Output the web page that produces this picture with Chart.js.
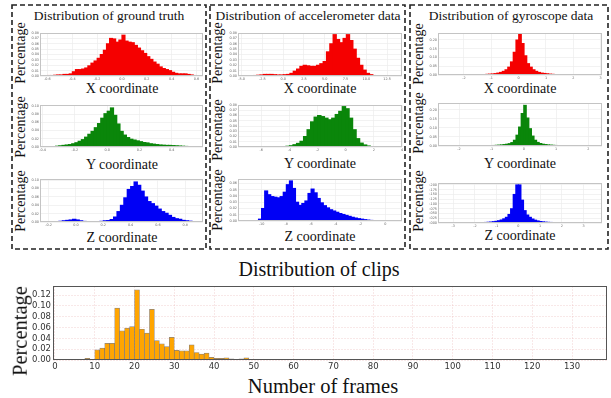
<!DOCTYPE html>
<html>
<head>
<meta charset="utf-8">
<script src="https://cdn.jsdelivr.net/npm/chart.js@4.4.0/dist/chart.umd.min.js"></script>
<style>
  body { margin: 0; background: #fff; }
  #fig { position: relative; width: 611px; height: 398px; overflow: hidden; background: #fff;
         font-family: 'Liberation Serif', 'Times New Roman', serif; color: #111; }
  #fig canvas { position: absolute; }
  .lbl { position: absolute; white-space: nowrap; line-height: 1; transform: translate(-50%, -50%); }
  .rot { transform: translate(-50%, -50%) rotate(-90deg); }
</style>
</head>
<body>
<div id="fig">
  <svg width="611" height="398" style="position:absolute;left:0;top:0">
    <g fill="none" stroke="#222" stroke-width="1.6" stroke-dasharray="5,3">
      <rect x="12" y="5" width="194" height="244"/>
      <rect x="210" y="5" width="195" height="244"/>
      <rect x="410" y="5" width="198" height="244"/>
    </g>
  </svg>
</div>
<script>
// ---- data: histogram bins (start, step) + percentage per bin ----
const gtXStart = -0.6, gtXStep = 0.025;
const gtX = [0.001,0.001,0.0015,0.002,0.002,0.003,0.003,0.004,0.008,0.012,0.012,0.013,0.015,0.019,0.024,0.028,
  0.033,0.040,0.048,0.060,0.070,0.069,0.063,0.067,0.076,0.065,0.063,0.062,0.057,0.052,0.047,0.042,
  0.036,0.031,0.026,0.022,0.017,0.014,0.012,0.010,0.007,0.005,0.004,0.004,0.004,0.003,0.002,0.001];

const accXStart = -4, accXStep = 0.4;
const accX = [0.0005,0.001,0.0015,0.002,0.003,0.003,0.003,0.0025,0.002,0.002,0.0025,0.003,0.005,0.009,0.013,0.018,
  0.020,0.019,0.018,0.018,0.020,0.023,0.027,0.045,0.060,0.077,0.068,0.062,0.070,0.077,0.066,0.050,
  0.033,0.020,0.011,0.005,0.0025,0.001,0.0005,0.0003];

const gyrXStart = -2, gyrXStep = 0.1;
const gyrX = [0.001,0.001,0.0015,0.0015,0.002,0.002,0.003,0.003,0.004,0.005,0.006,0.008,0.011,0.015,0.021,0.030,
  0.045,0.075,0.130,0.200,0.235,0.180,0.110,0.065,0.045,0.030,0.021,0.015,0.011,0.009,0.007,0.005,
  0.004,0.003,0.003,0.002,0.002,0.0015,0.001,0.001];

const gtYStart = -0.4, gtYStep = 0.02;
const gtY = [0.0005,0.0008,0.001,0.0012,0.002,0.003,0.004,0.005,0.006,0.008,0.0105,0.014,0.018,0.024,0.031,0.038,
  0.047,0.057,0.070,0.081,0.087,0.095,0.077,0.056,0.038,0.029,0.023,0.019,0.017,0.015,0.013,0.011,
  0.010,0.008,0.007,0.006,0.005,0.0045,0.004,0.004,0.0035,0.003,0.0025,0.002,0.0015,0.001,0.0008,0.0005];

const accYStart = -5.5, accYStep = 0.25;
const accY = [0.0003,0.0005,0.0006,0.0008,0.001,0.0015,0.0025,0.0045,0.007,0.011,0.020,0.033,0.048,0.057,0.060,0.058,
  0.055,0.052,0.055,0.062,0.068,0.077,0.073,0.055,0.033,0.016,0.0075,0.004,0.002,0.001,0.0006,0.0003];

const gyrYStart = -1.6, gyrYStep = 0.08;
const gyrY = [0.0008,0.001,0.001,0.0012,0.0015,0.0018,0.002,0.0025,0.003,0.004,0.005,0.006,0.008,0.010,0.013,0.019,
  0.032,0.060,0.105,0.180,0.225,0.155,0.096,0.055,0.032,0.020,0.014,0.010,0.008,0.006,0.005,0.004,
  0.003,0.0025,0.002,0.0015,0.0012,0.001,0.0008,0.0005];

const gtZStart = -0.15, gtZStep = 0.025;
const gtZ = [0.0012,0.0018,0.003,0.004,0.005,0.0066,0.005,0.003,0.0015,0.0008,0.0005,0.0005,0.001,0.0017,0.003,0.0035,
  0.006,0.012,0.025,0.040,0.058,0.078,0.085,0.096,0.088,0.074,0.060,0.049,0.044,0.038,0.031,0.025,
  0.021,0.016,0.011,0.008,0.0066,0.004,0.003,0.002,0.001];

const accZStart = -10.25, accZStep = 0.25;
const accZ = [0.003,0.020,0.048,0.042,0.039,0.038,0.037,0.039,0.046,0.058,0.064,0.052,0.030,0.025,0.028,0.032,
  0.044,0.051,0.045,0.036,0.029,0.0245,0.021,0.018,0.016,0.014,0.012,0.0105,0.009,0.0075,0.006,0.0048,
  0.0038,0.003,0.0022,0.0015,0.001,0.0006,0.0003];

const gyrZStart = -2.4, gyrZStep = 0.12;
const gyrZ = [0.0008,0.001,0.0012,0.0015,0.0018,0.002,0.0025,0.003,0.004,0.005,0.007,0.009,0.012,0.016,0.022,0.030,
  0.045,0.075,0.150,0.200,0.200,0.120,0.065,0.042,0.030,0.021,0.015,0.011,0.008,0.006,0.0045,0.0035,
  0.003,0.0025,0.002,0.0016,0.0013,0.001,0.0008,0.0005];

const framesStart = 6.25, framesStep = 1.25;
const frames = [0.001,0.003,0.001,0.019,0.022,0.031,0.031,0.096,0.054,0.059,0.062,0.130,0.057,0.050,0.094,0.036,
  0.030,0.025,0.042,0.018,0.017,0.017,0.028,0.014,0.011,0.013,0.005,0.003,0.003,0.004,0.002,0.001,
  0.002,0.004,0.0005,0.001,0.001,0.0005,0.001,0,0,0,0,0.0005,0.001,0.001,0,0,0,0,
  0.0005,0,0,0,0,0,0,0,0,0,0.001];

// tick labels
const gtXTicks = [-0.6, -0.4, -0.2, 0, 0.2, 0.4, 0.6];
const accXTicks = [-5, -2.5, 0, 2.5, 5, 7.5, 10, 12.5];
const gyrXTicks = [-2, -1, 0, 1, 2, 3];
const gtYTicks = [-0.4, -0.2, 0, 0.2, 0.4];
const accYTicks = [-6, -4, -2, 0, 2, 4];
const gyrYTicks = [-2, -1, 0, 1, 2];
const gtZTicks = [-0.2, 0, 0.2, 0.4, 0.6, 0.8];
const accZTicks = [-10, -8, -6, -4, -2, 0];
const gyrZTicks = [-3, -2, -1, 0, 1, 2, 3];
const pct8Ticks = [0, 0.01, 0.02, 0.03, 0.04, 0.05, 0.06, 0.07, 0.08];
const pct10Ticks = [0, 0.02, 0.04, 0.06, 0.08, 0.1];
const pct6Ticks = [0, 0.01, 0.02, 0.03, 0.04, 0.05, 0.06];
const gyroPctTicks = [0, 0.05, 0.1, 0.15, 0.2];
const gyroZPctTicks = [0, 0.025, 0.05, 0.075, 0.1, 0.125, 0.15, 0.175, 0.2];
const framesTicks = [0, 10, 20, 30, 40, 50, 60, 70, 80, 90, 100, 110, 120, 130];
const framesPctTicks = [0, 0.02, 0.04, 0.06, 0.08, 0.1, 0.12];

const fig = document.getElementById('fig');

function bins(start, step, values) {
  return values.map((v, i) => ({ x: start + step * (i + 0.5), y: v }));
}

function addText(txt, x, y, size, rotate) {
  const d = document.createElement('div');
  d.className = 'lbl' + (rotate ? ' rot' : '');
  d.textContent = txt;
  d.style.left = x + 'px';
  d.style.top = y + 'px';
  d.style.fontSize = size + 'px';
  fig.appendChild(d);
}

const framePlugin = {
  id: 'frame',
  afterDraw(chart, args, opts) {
    const { ctx, chartArea: a } = chart;
    ctx.save();
    ctx.strokeStyle = opts.color;
    ctx.lineWidth = opts.width;
    ctx.strokeRect(a.left + 0.5, a.top + 0.5, a.right - a.left - 1, a.bottom - a.top - 1);
    ctx.restore();
  }
};

// box = plot area [left, top, right, bottom]
function histChart(box, p) {
  const c = document.createElement('canvas');
  const w = box[2] - box[0] + p.yw + p.pr;
  const h = box[3] - box[1] + p.xh + p.pt;
  c.width = w; c.height = h;
  c.style.left = (box[0] - p.yw) + 'px';
  c.style.top = (box[1] - p.pt) + 'px';
  c.style.width = w + 'px';
  c.style.height = h + 'px';
  fig.appendChild(c);

  const tickFont = { family: 'DejaVu Sans', size: p.font };
  new Chart(c, {
    type: 'bar',
    data: {
      datasets: [{
        data: p.data,
        backgroundColor: p.color,
        borderColor: p.edge,
        borderWidth: p.bw,
        inflateAmount: p.inflate,
        barPercentage: 1,
        categoryPercentage: 1
      }]
    },
    options: {
      responsive: false,
      animation: false,
      devicePixelRatio: 1,
      layout: { padding: { top: p.pt, right: p.pr, left: 0, bottom: 0 } },
      plugins: {
        legend: { display: false },
        tooltip: { enabled: false },
        frame: { color: p.frame, width: 1 }
      },
      scales: {
        x: {
          type: 'linear', offset: false, min: p.xMin, max: p.xMax,
          grid: { offset: false, color: p.grid, lineWidth: 0.7, drawTicks: false },
          border: { display: false, dash: p.dash },
          ticks: {
            font: tickFont, color: p.tickColor, padding: p.tpad, maxRotation: 0, autoSkip: false,
            callback: v => Number(v).toFixed(p.xDec)
          },
          afterBuildTicks: s => { s.ticks = p.xTicks.map(v => ({ value: v })); },
          afterFit: s => { s.height = p.xh; s.paddingLeft = 0; s.paddingRight = 0; }
        },
        y: {
          min: 0, max: p.yMax,
          grid: { color: p.grid, lineWidth: 0.7, drawTicks: false },
          border: { display: false, dash: p.dash },
          ticks: {
            font: tickFont, color: p.tickColor, padding: p.tpad, autoSkip: false,
            callback: v => Number(v).toFixed(p.yDec)
          },
          afterBuildTicks: s => { s.ticks = p.yTicks.map(v => ({ value: v })); },
          afterFit: s => { s.width = p.yw; s.paddingTop = 0; s.paddingBottom = 0; }
        }
      }
    },
    plugins: [framePlugin]
  });
}

const small = { yw: 9, xh: 5, pt: 2, pr: 2, font: 3.4, tpad: 1, tickColor: '#666',
                grid: '#ececec', frame: '#c4c4c4', dash: [], bw: 0, inflate: 0.5, edge: 'rgba(0,0,0,0)' };
const RED = '#f50000', GREEN = '#0a860a', BLUE = '#0000f5';

const panels = [
  { box: [40, 33, 203, 76], data: bins(gtXStart, gtXStep, gtX), color: RED, xMin: -0.66, xMax: 0.653, xTicks: gtXTicks, xDec: 1, yMax: 0.08, yTicks: pct8Ticks, yDec: 2 },
  { box: [238, 33, 402, 76], data: bins(accXStart, accXStep, accX), color: RED, xMin: -5.44, xMax: 14.3, xTicks: accXTicks, xDec: 1, yMax: 0.08, yTicks: pct8Ticks, yDec: 2 },
  { box: [438, 33, 602, 75], data: bins(gyrXStart, gyrXStep, gyrX), color: RED, xMin: -2.95, xMax: 3.05, xTicks: gyrXTicks, xDec: 0, yMax: 0.24, yTicks: gyroPctTicks, yDec: 2 },
  { box: [40, 105, 203, 147], data: bins(gtYStart, gtYStep, gtY), color: GREEN, xMin: -0.416, xMax: 0.594, xTicks: gtYTicks, xDec: 1, yMax: 0.102, yTicks: pct10Ticks, yDec: 2 },
  { box: [238, 105, 402, 147], data: bins(accYStart, accYStep, accY), color: GREEN, xMin: -7.65, xMax: 4.0, xTicks: accYTicks, xDec: 0, yMax: 0.08, yTicks: pct8Ticks, yDec: 2 },
  { box: [438, 103, 602, 146], data: bins(gyrYStart, gyrYStep, gyrY), color: GREEN, xMin: -2.65, xMax: 2.42, xTicks: gyrYTicks, xDec: 0, yMax: 0.238, yTicks: gyroPctTicks, yDec: 2 },
  { box: [40, 179, 203, 222], data: bins(gtZStart, gtZStep, gtZ), color: BLUE, xMin: -0.263, xMax: 0.93, xTicks: gtZTicks, xDec: 1, yMax: 0.103, yTicks: pct10Ticks, yDec: 2 },
  { box: [238, 179, 402, 221], data: bins(accZStart, accZStep, accZ), color: BLUE, xMin: -11.9, xMax: 1.35, xTicks: accZTicks, xDec: 0, yMax: 0.067, yTicks: pct6Ticks, yDec: 2 },
  { box: [438, 183, 602, 223], data: bins(gyrZStart, gyrZStep, gyrZ), color: BLUE, xMin: -3.7, xMax: 3.85, xTicks: gyrZTicks, xDec: 0, yMax: 0.21, yTicks: gyroZPctTicks, yDec: 3 }
];
panels.forEach(p => histChart(p.box, Object.assign({}, small, p)));

// bottom: distribution of clips
histChart([53, 286, 607, 360], {
  yw: 22, xh: 12, pt: 5, pr: 3, font: 8.5, tpad: 2, tickColor: '#333',
  grid: 'rgba(225,160,160,0.35)', frame: '#555', dash: [2, 1], bw: 0.7, inflate: 0.3, edge: 'rgba(110,100,90,0.8)',
  data: bins(framesStart, framesStep, frames), color: '#ffa500',
  xMin: -0.5, xMax: 138.8, xTicks: framesTicks, xDec: 0,
  yMax: 0.137, yTicks: framesPctTicks, yDec: 2
});

// texts
addText('Distribution of ground truth', 109, 16, 13.5);
addText('Distribution of accelerometer data', 308, 16, 13.5);
addText('Distribution of gyroscope data', 511, 16, 13.5);
[[122, 'X', 89], [122, 'Y', 165], [122, 'Z', 238],
 [320, 'X', 89], [320, 'Y', 164], [320, 'Z', 237],
 [520, 'X', 89], [520, 'Y', 164], [520, 'Z', 236]].forEach(t => addText(t[1] + ' coordinate', t[0], t[2], 14));
[[21, 53], [21, 127], [21, 201], [218, 53], [218, 130], [218, 200], [419, 54], [419, 123], [419, 201]]
  .forEach(t => addText('Percentage', t[0], t[1], 14, true));
addText('Distribution of clips', 319, 269, 20);
addText('Percentage', 20, 331, 20.5, true);
addText('Number of frames', 323, 386, 20.5);
</script>
</body>
</html>
